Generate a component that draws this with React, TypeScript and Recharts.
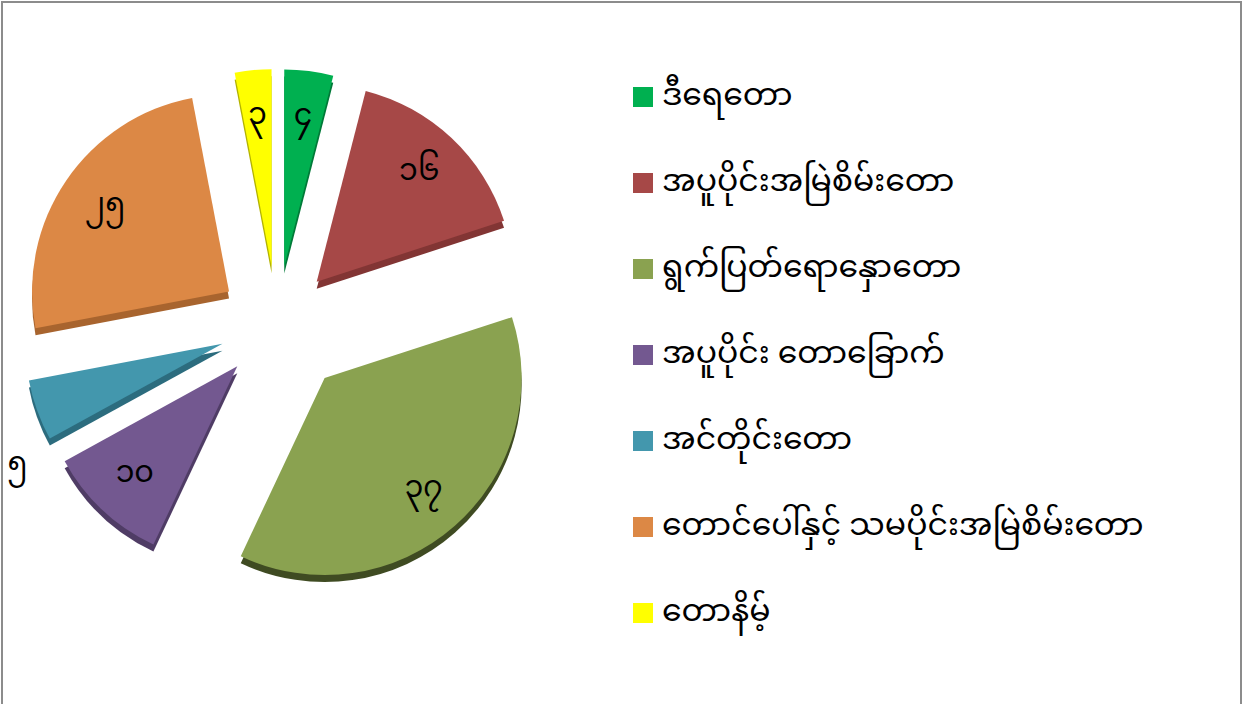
import { PieChart, Pie, Cell, Legend } from 'recharts';

const forestTypes = [
  'ဒီရေတော',
  'အပူပိုင်းအမြဲစိမ်းတော',
  'ရွက်ပြတ်ရောနှောတော',
  'အပူပိုင်း တောခြောက်',
  'အင်တိုင်းတော',
  'တောင်ပေါ်နှင့် သမပိုင်းအမြဲစိမ်းတော',
  'တောနိမ့်',
];
const shares = [4, 16, 37, 10, 5, 25, 3];

const COLORS = ['#00b050', '#a64847', '#8aa250', '#735890', '#4397ad', '#dc8845', '#ffff00'];
const SIDE_COLORS = ['#007a38', '#823534', '#3f4b22', '#4f3c65', '#2c6c7e', '#a8642e', '#b3b300'];

const W = 1237;
const H = 720;
const CX = 269;
const CY = 316;
const R = 197;
const DEPTH = 7;
const FONT = '"Noto Sans Myanmar", "Myanmar Text", Padauk, "Noto Sans", sans-serif';
const RAD = Math.PI / 180;

const data = forestTypes.map((name, i) => ({ name, value: shares[i] }));
const total = shares.reduce((a, b) => a + b, 0);

const toMyanmarDigits = (n: number) =>
  String(n).replace(/[0-9]/g, (d) => String.fromCharCode(0x1040 + Number(d)));

// how far each slice is pulled out from the centre
const explodeFor = (i: number) => (i === 2 ? 72 : 58);

const offsets = shares.map((v, i) => {
  const before = shares.slice(0, i).reduce((a, b) => a + b, 0);
  const mid = ((before + v / 2) / total) * 360;
  const d = explodeFor(i);
  return { dx: d * Math.sin(mid * RAD), dy: -d * Math.cos(mid * RAD) };
});

function makeLabel(slice: number) {
  return (props: any) => {
    const { cx, cy, midAngle, outerRadius, index, value } = props;
    if (index !== slice) return null;
    // the small teal slice has its label outside, a bit lower
    const outside = slice === 4;
    const r = outside ? outerRadius * 1.21 : outerRadius * 0.76;
    const a = outside ? midAngle + 11 : midAngle;
    const x = cx + r * Math.cos(-a * RAD);
    const y = cy + r * Math.sin(-a * RAD);
    return (
      <text x={x} y={y} textAnchor="middle" dominantBaseline="central" fill="#000" fontSize={30} fontFamily={FONT}>
        {toMyanmarDigits(value)}
      </text>
    );
  };
}

function LegendList() {
  return (
    <div style={{ fontFamily: FONT }}>
      {data.map((d, i) => (
        <div key={d.name} style={{ display: 'flex', alignItems: 'center', height: 86 }}>
          <span style={{ width: 20, height: 20, background: COLORS[i], marginRight: 9, flex: 'none' }} />
          <span style={{ fontSize: 31.5, color: '#000', whiteSpace: 'nowrap' }}>{d.name}</span>
        </div>
      ))}
    </div>
  );
}

export default function App() {
  return (
    <div
      style={{
        position: 'absolute',
        left: 1,
        top: 1,
        width: W,
        height: H,
        border: '2px solid #8c8c8c',
        background: '#fff',
      }}
    >
      <PieChart width={W} height={H}>
        {data.map((_, s) => (
          <Pie
            key={`side-${s}`}
            data={data}
            dataKey="value"
            cx={CX + offsets[s].dx}
            cy={CY + offsets[s].dy + DEPTH}
            outerRadius={R}
            startAngle={90}
            endAngle={-270}
            stroke="none"
            isAnimationActive={false}
          >
            {data.map((_, i) => (
              <Cell key={i} fill={i === s ? SIDE_COLORS[i] : 'transparent'} />
            ))}
          </Pie>
        ))}
        {data.map((_, s) => (
          <Pie
            key={`top-${s}`}
            data={data}
            dataKey="value"
            cx={CX + offsets[s].dx}
            cy={CY + offsets[s].dy}
            outerRadius={R}
            startAngle={90}
            endAngle={-270}
            stroke="none"
            label={makeLabel(s)}
            labelLine={false}
            isAnimationActive={false}
          >
            {data.map((_, i) => (
              <Cell key={i} fill={i === s ? COLORS[i] : 'transparent'} />
            ))}
          </Pie>
        ))}
        <Legend
          layout="vertical"
          content={() => <LegendList />}
          wrapperStyle={{ position: 'absolute', left: 630, top: 51, width: 600 }}
        />
      </PieChart>
    </div>
  );
}
